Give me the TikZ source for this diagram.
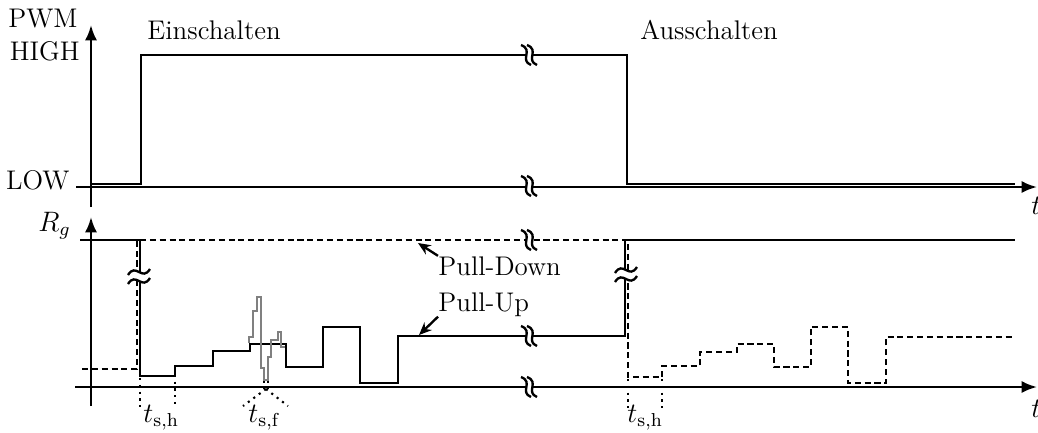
\documentclass[tikz,border=0pt]{standalone}
\usetikzlibrary{arrows, arrows.meta, positioning, calc}
\tikzset{>={Latex[width=1.8mm,length=2.3mm]}}
\tikzset{
  hcut/.pic = {
    \fill[white] (-6,-10) .. controls (7,-5) and (-8,5) .. (4,10) -- (10,10) .. controls (-2,5) and (13,-5) .. (0,-10) -- cycle;
    \draw[line width=1pt] (-6,-10) .. controls (7,-5) and (-8,5) .. (4,10);
    \draw[line width=1pt] (0,-10) .. controls (13,-5) and (-2,5) .. (10,10);
  },
  vcut/.pic = {
    \fill[white] (-11,0) .. controls (-3,-13) and (3,7) .. (11,-6) -- (11,3) .. controls (3,16) and (-3,-4) .. (-11,9) -- cycle;
    \draw[line width=1pt] (-11,0) .. controls (-3,-13) and (3,7) .. (11,-6);
    \draw[line width=1pt] (-11,9) .. controls (-3,-4) and (3,16) .. (11,3);
  }
}

\begin{document}
\begin{tikzpicture}[
      x=0.015cm, y=-0.015cm,
      every node/.style = {font=\fontsize{11.5}{13}\selectfont, inner sep=0pt},
      sig/.style = {line width=1pt},
      axis/.style = {line width=1pt, ->},
      pulldown/.style = {line width=1pt, dash pattern=on 2.6pt off 1.6pt},
      marker/.style = {line width=0.9pt, dotted},
      gate/.style = {line width=1pt, gray},
      arrow/.style = {-{Stealth[width=1.6mm,length=1.9mm]}, line width=1pt}
    ]
    \useasboundingbox (0,0) rectangle (1038,432);

    % PWM
    \draw[axis] (91,207) -- (91,25);
    \draw[axis] (76,187) -- (1037,187);
    \draw[sig] (91,184) -- (141,184) -- (141,55) -- (627,55) -- (627,184) -- (1015,184);

    \node[anchor=base east] (pwm) at (78,27) {PWM};
    \node[anchor=base east] (high) at (80,60) {HIGH};
    \node[anchor=base east] (low) at (70,189) {LOW};
    \node[anchor=base west] (ein) at (147,39) {Einschalten};
    \node[anchor=base west] (aus) at (640,39) {Ausschalten};
    \node[anchor=base west] (t1) at (1031,214) {$t$};

    % R_g
    \draw[axis] (91,406) -- (91,217);
    \draw[axis] (75,387) -- (1037,387);
    \node[anchor=base west] (rg) at (38,231) {$R_g$};
    \node[anchor=base west] (t2) at (1031,417) {$t$};

    \draw[pulldown] (82,369) -- (137,369) -- (137,240) -- (628,240) -- (628,377) -- (662,377)
      -- (662,366) -- (700,366) -- (700,352) -- (737,352) -- (737,344) -- (774,344)
      -- (774,367) -- (811,367) -- (811,327) -- (848,327) -- (848,383) -- (886,383)
      -- (886,337) -- (1015,337);
    \draw[sig] (80,240) -- (140,240) -- (140,376) -- (175,376) -- (175,366) -- (213,366)
      -- (213,351) -- (250,351) -- (250,344) -- (286,344) -- (286,367) -- (323,367)
      -- (323,327) -- (360,327) -- (360,383) -- (398,383) -- (398,336) -- (625,336)
      -- (625,240) -- (1015,240);

    % Schwingung
    \draw[gate] (249,343) -- (249,337) -- (253,337) -- (253,311) -- (257,311) -- (257,297)
      -- (261,297) -- (261,368) -- (264,368) -- (264,380) -- (268,380) -- (268,357)
      -- (271,357) -- (271,340) -- (278,340) -- (278,332) -- (281,332) -- (281,347) -- (285,347);

    % Unterbrechungen
    \pic at (527,55) {hcut};
    \pic at (527,186) {hcut};
    \pic at (527,240) {hcut};
    \pic at (527,336) {hcut};
    \pic at (527,387) {hcut};
    \pic at (139,275) {vcut};
    \pic at (626,273) {vcut};

    % Zeiten
    \node[anchor=base west] (tsh1) at (143,422) {$t_{\mathrm{s,h}}$};
    \node[anchor=base west] (tsf) at (248,422) {$t_{\mathrm{s,f}}$};
    \node[anchor=base west] (tsh2) at (627,422) {$t_{\mathrm{s,h}}$};
    \coordinate (sf) at (266,389);
    \draw[marker] (140,378) -- (140,408);
    \draw[marker] (175,368) -- (175,408);
    \draw[marker] (628,379) -- (628,408);
    \draw[marker] (662,379) -- (662,408);
    \draw[marker] (264,381) -- (264,388);
    \draw[marker] (268,381) -- (268,388);
    \draw[marker] (sf) -- ++(-23,17);
    \draw[marker] (sf) -- ++(22,17);

    % Beschriftung
    \node[anchor=base west] (pd) at (438,275) {Pull-Down};
    \node[anchor=base west] (pu) at (438,311) {Pull-Up};
    \coordinate (pdtip) at (418,243);
    \coordinate (putip) at (419,335);
    \draw[arrow] (pd.north west) -- (pdtip);
    \draw[arrow] (pu.south west) -- (putip);

\end{tikzpicture}
\end{document}
